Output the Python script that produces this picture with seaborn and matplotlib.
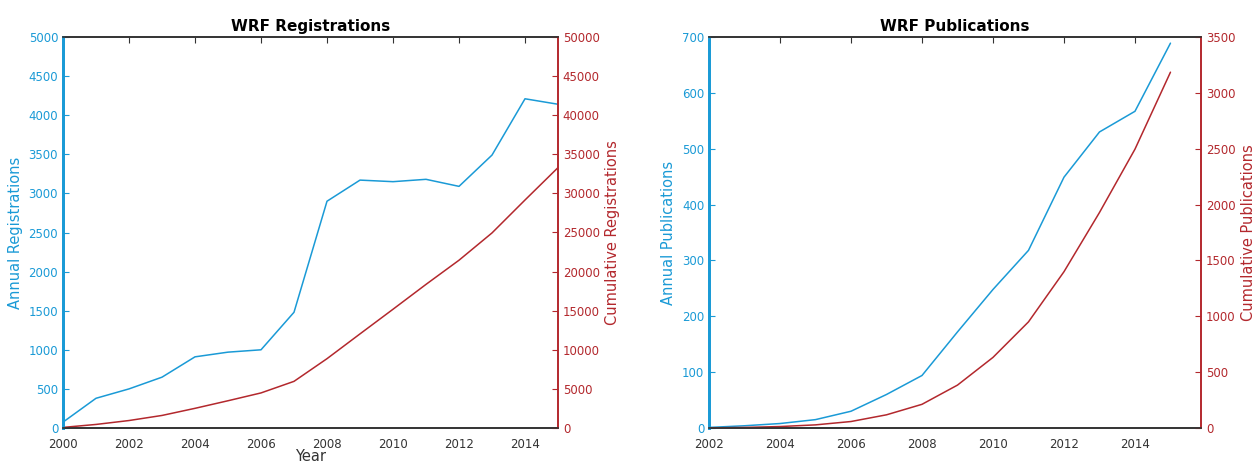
import matplotlib
matplotlib.use("Agg")
import matplotlib.pyplot as plt
import seaborn as sns
import pandas as pd

# ---- data ----
reg_years = [2000, 2001, 2002, 2003, 2004, 2005, 2006, 2007, 2008, 2009, 2010, 2011, 2012, 2013, 2014, 2015]
reg_annual = [75, 380, 500, 650, 910, 970, 1000, 1480, 2900, 3170, 3150, 3180, 3090, 3490, 4210, 4140]
reg_cumulative = [75, 455, 955, 1605, 2515, 3485, 4485, 5965, 8865, 12035, 15185, 18365, 21455, 24945, 29155, 33295]

pub_years = [2002, 2003, 2004, 2005, 2006, 2007, 2008, 2009, 2010, 2011, 2012, 2013, 2014, 2015]
pub_annual = [1, 4, 8, 15, 30, 60, 94, 172, 248, 318, 449, 530, 567, 689]
pub_cumulative = [1, 5, 13, 28, 58, 118, 212, 384, 632, 950, 1399, 1929, 2496, 3185]

BLUE = "#1a9ad6"
RED = "#b3282d"
DARK = "#333333"

sns.set_style("white")
plt.rcParams['font.family'] = ['DejaVu Sans']
plt.rcParams['xtick.direction'] = 'in'
plt.rcParams['ytick.direction'] = 'in'

fig = plt.figure(figsize=(12.6, 4.63), dpi=100)

def make_panel(rect, years, annual, cumul, title, ylab_l, ylab_r,
               xlim, xticks, ylim_l, yticks_l, ylim_r, yticks_r, xlabel=None):
    ax = fig.add_axes(rect)
    df = pd.DataFrame({"year": years, "annual": annual, "cum": cumul})
    sns.lineplot(data=df, x="year", y="annual", ax=ax, color=BLUE, linewidth=1.1)
    ax2 = ax.twinx()
    sns.lineplot(data=df, x="year", y="cum", ax=ax2, color=RED, linewidth=1.1)
    ax.set_xlim(*xlim)
    ax.set_xticks(xticks)
    ax.set_ylim(*ylim_l)
    ax.set_yticks(yticks_l)
    ax2.set_ylim(*ylim_r)
    ax2.set_yticks(yticks_r)
    ax.set_title(title, fontsize=11, fontweight='bold', color='black', pad=4)
    ax.set_ylabel(ylab_l, color=BLUE, fontsize=10.5)
    ax2.set_ylabel(ylab_r, color=RED, fontsize=10.5)
    ax.set_xlabel(xlabel if xlabel else "", fontsize=10.5, color=DARK, labelpad=-1)
    ax.tick_params(axis='y', colors=BLUE, labelsize=8.5, length=4, width=0.8)
    ax.tick_params(axis='x', colors=DARK, labelsize=8.5, length=4, width=0.8, top=True, pad=7)
    ax2.tick_params(axis='y', colors=RED, labelsize=8.5, length=4, width=0.8)
    for a in (ax, ax2):
        a.spines['left'].set_color(BLUE)
        a.spines['right'].set_color(RED)
        a.spines['top'].set_color(DARK)
        a.spines['bottom'].set_color(DARK)
        for s in a.spines.values():
            s.set_linewidth(1.2)
            s.set_visible(True)
    ax.spines['left'].set_linewidth(2)
    ax2.spines['left'].set_linewidth(2)
    ax.grid(False); ax2.grid(False)
    return ax, ax2

W, H = 1260, 463
make_panel([63 / W, 35 / H, 495 / W, 391 / H], reg_years, reg_annual, reg_cumulative,
           "WRF Registrations", "Annual Registrations", "Cumulative Registrations",
           (2000, 2015), list(range(2000, 2015, 2)),
           (0, 5000), list(range(0, 5001, 500)),
           (0, 50000), list(range(0, 50001, 5000)), xlabel="Year")

make_panel([709 / W, 35 / H, 492 / W, 391 / H], pub_years, pub_annual, pub_cumulative,
           "WRF Publications", "Annual Publications", "Cumulative Publications",
           (2002, 2015.86), list(range(2002, 2015, 2)),
           (0, 700), list(range(0, 701, 100)),
           (0, 3500), list(range(0, 3501, 500)))

fig.savefig("out.png", dpi=100)
